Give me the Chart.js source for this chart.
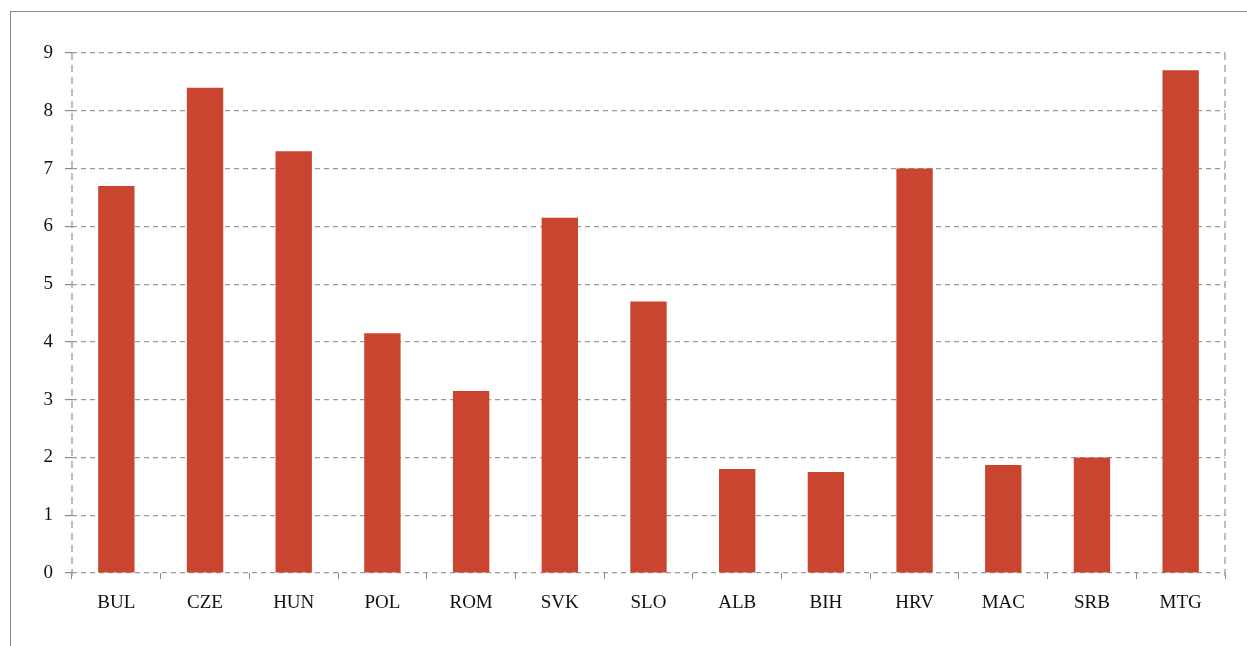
<!DOCTYPE html>
<html>
<head>
<meta charset="utf-8">
<script src="https://cdn.jsdelivr.net/npm/chart.js@4"></script>
<style>
  html, body { margin: 0; padding: 0; background: #fff; }
  #frame { position: absolute; left: 10px; top: 11px; width: 1250px; height: 650px;
           border-left: 1px solid #8a8a8a; border-top: 1px solid #8a8a8a; }
  #wrap { position: absolute; left: 0; top: 0; width: 1247px; height: 646px; }
</style>
</head>
<body>
<div id="frame"></div>
<div id="wrap"><canvas id="barChart" width="1247" height="646"></canvas></div>
<script>
// categories and values
const countries = ['BUL', 'CZE', 'HUN', 'POL', 'ROM', 'SVK', 'SLO', 'ALB', 'BIH', 'HRV', 'MAC', 'SRB', 'MTG'];
const values = [6.7, 8.4, 7.3, 4.15, 3.15, 6.15, 4.7, 1.8, 1.75, 7.0, 1.87, 2.0, 8.7];
const yTicks = [0, 1, 2, 3, 4, 5, 6, 7, 8, 9];

const gridColor = '#9a9a9a';
const dash = [5, 4];
const serif = "'Liberation Serif', 'DejaVu Serif', serif";

// left / right edges of the plot area as dashed lines (Chart.js draws axis borders solid)
const dashedFrame = {
    id: 'dashedFrame',
    afterDraw(chart) {
        const a = chart.chartArea;
        const c = chart.ctx;
        c.save();
        c.strokeStyle = gridColor;
        c.lineWidth = 1.3;
        c.setLineDash([7, 5]);
        c.beginPath();
        c.moveTo(a.left, a.top);
        c.lineTo(a.left, a.bottom + 6);
        c.moveTo(a.right, a.top);
        c.lineTo(a.right, a.bottom + 6);
        c.stroke();
        c.restore();
    }
};

const ctx = document.getElementById('barChart').getContext('2d');
new Chart(ctx, {
    type: 'bar',
    data: {
        labels: countries,
        datasets: [{
            data: values,
            backgroundColor: '#c9452f',
            borderWidth: 0,
            categoryPercentage: 1,
            barPercentage: 0.41
        }]
    },
    plugins: [dashedFrame],
    options: {
        responsive: false,
        animation: false,
        layout: { padding: { top: 53, right: 22, left: 0, bottom: 0 } },
        plugins: { legend: { display: false }, tooltip: { enabled: false } },
        scales: {
            x: {
                offset: true,
                grid: { drawOnChartArea: false, drawTicks: true, tickLength: 6, color: '#8a8a8a', offset: true },
                border: { display: false },
                ticks: { color: '#111', font: { family: serif, size: 19 }, padding: 13, maxRotation: 0 },
                afterFit: function(scale) { scale.height = 73; }
            },
            y: {
                min: 0,
                max: 9,
                afterBuildTicks: function(scale) { scale.ticks = yTicks.map(v => ({ value: v })); },
                grid: { color: gridColor, lineWidth: 1.2, tickLength: 7, tickColor: '#8a8a8a' },
                border: { display: false, dash: dash },
                ticks: { color: '#111', font: { family: serif, size: 19 }, padding: 12 },
                afterFit: function(scale) { scale.width = 72; }
            }
        }
    }
});
</script>
</body>
</html>
